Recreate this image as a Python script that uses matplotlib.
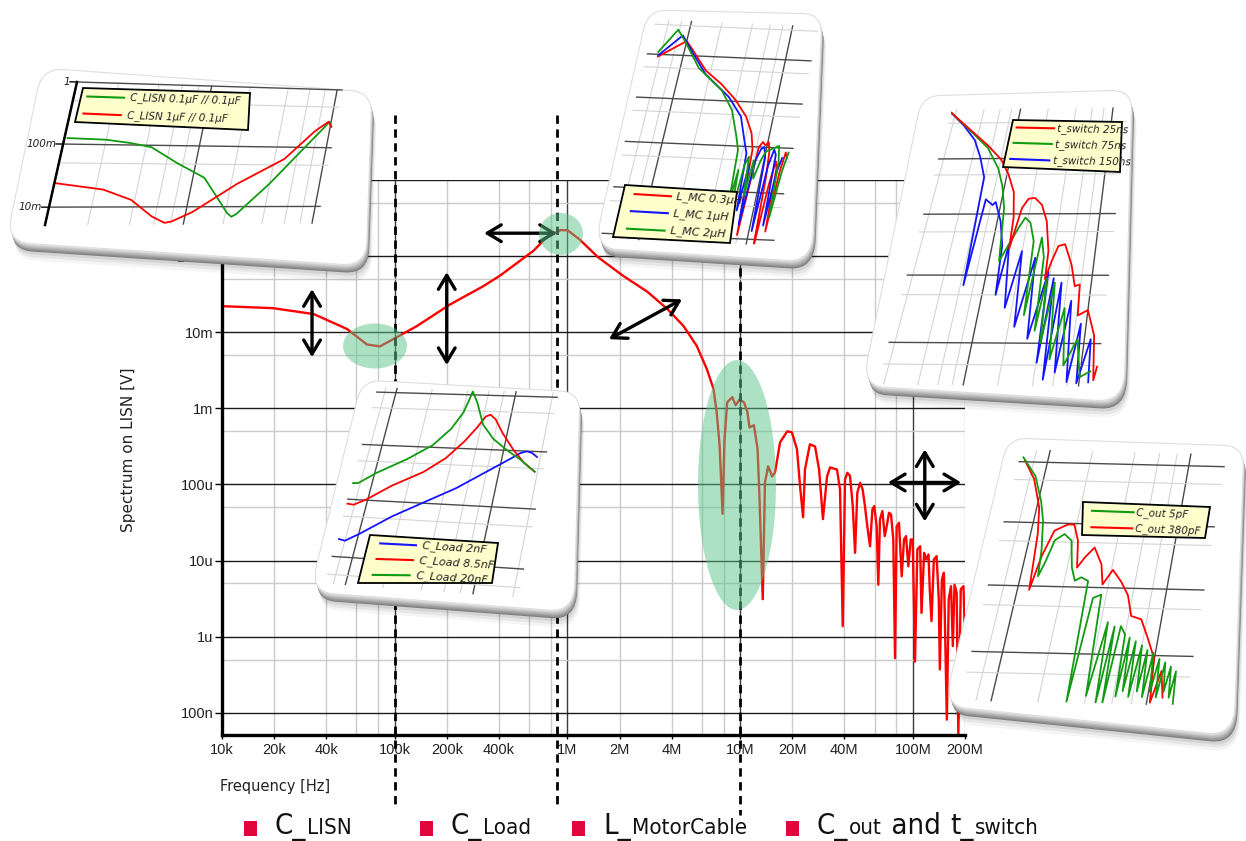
import numpy as np
import matplotlib
matplotlib.use('Agg')
import matplotlib.pyplot as plt
from matplotlib.transforms import Transform, Affine2D, blended_transform_factory
from matplotlib.patches import FancyBboxPatch, Polygon, Ellipse, Rectangle

W, H = 1246, 841

# ---------------- data ----------------
# main spectrum on the LISN
main_f = [10e3, 19.7e3, 34e3, 53e3, 69e3, 82e3, 98e3, 134e3, 208e3, 324e3, 405e3, 634e3, 760e3, 910e3,
          1.0e6, 1.17e6, 1.5e6, 2.1e6, 2.9e6, 3.8e6, 4.7e6, 5.6e6, 6.4e6, 7.0e6, 7.3e6, 7.6e6, 7.9e6, 8.1e6,
          8.4e6, 9.0e6, 9.4e6, 9.9e6, 10.5e6, 11e6, 11.3e6, 12e6, 12.6e6, 12.9e6, 13.5e6, 13.9e6, 14.5e6,
          15.3e6, 15.9e6, 17.0e6, 18.7e6, 19.9e6, 21.3e6, 22.2e6, 23.1e6, 23.7e6, 25.3e6, 27.1e6, 28.6e6,
          30.1e6, 31.8e6, 33.1e6, 36.3e6,
          37.8e6, 39.2e6, 40.4e6, 41.7e6, 43.2e6, 44.8e6, 46.2e6, 47.6e6, 49.4e6, 51.1e6, 52.7e6, 54.4e6,
          56.4e6, 58.2e6, 59.7e6, 61.6e6, 63e6, 64.4e6, 66.5e6, 68.6e6, 70.4e6, 72.6e6, 74.6e6, 76.9e6,
          78.7e6, 80.4e6, 83e6, 86e6, 88.7e6, 91.1e6, 94e6, 97e6, 99.6e6, 102.7e6, 106e6, 110e6, 112e6,
          116e6, 119e6, 123e6, 125e6, 128e6, 132e6, 137e6, 141e6, 143e6, 147e6, 151e6, 157e6, 161e6,
          166e6, 170e6, 174e6, 179e6, 183e6, 189e6, 196e6, 200e6]
main_v = [22e-3, 20.7e-3, 17.3e-3, 11e-3, 6.9e-3, 6.5e-3, 8.1e-3, 12e-3, 23e-3, 40e-3, 55e-3, 117e-3, 178e-3,
          219e-3, 219e-3, 167e-3, 97e-3, 55e-3, 34e-3, 20e-3, 12e-3, 6.6e-3, 3.3e-3, 1.8e-3, 0.9e-3, 0.32e-3,
          41e-6, 0.37e-3, 1.2e-3, 1.4e-3, 1.1e-3, 1.3e-3, 1.2e-3, 0.9e-3, 0.56e-3, 0.6e-3, 0.29e-3, 75e-6,
          3.1e-6, 106e-6, 173e-6, 127e-6, 144e-6, 357e-6, 498e-6, 483e-6, 289e-6, 94e-6, 37e-6, 157e-6,
          336e-6, 315e-6, 157e-6, 35e-6, 127e-6, 167e-6, 157e-6,
          86e-6, 1.37e-6, 116e-6, 142e-6, 129e-6, 52e-6, 12.6e-6, 78e-6, 105e-6, 86e-6, 52e-6, 28e-6,
          15.4e-6, 47e-6, 52e-6, 28e-6, 4.8e-6, 34.6e-6, 44.6e-6, 20.9e-6, 28e-6, 42.4e-6, 40.3e-6, 18.9e-6,
          0.52e-6, 28e-6, 31.3e-6, 6.2e-6, 18.9e-6, 20.9e-6, 8.4e-6, 18.9e-6, 18.9e-6, 0.47e-6, 14e-6,
          15.4e-6, 2.05e-6, 12.6e-6, 10.3e-6, 12e-6, 4.2e-6, 1.6e-6, 10.3e-6, 11.4e-6, 3.1e-6, 0.37e-6,
          5.6e-6, 6.9e-6, 81e-9, 3.1e-6, 4.6e-6, 0.75e-6, 4.8e-6, 3.75e-6, 51e-9, 4.2e-6, 4.6e-6, 0.91e-6]

x_ticks = [1e4, 2e4, 4e4, 1e5, 2e5, 4e5, 1e6, 2e6, 4e6, 1e7, 2e7, 4e7, 1e8, 2e8]
x_labels = ['10k', '20k', '40k', '100k', '200k', '400k', '1M', '2M', '4M', '10M', '20M', '40M', '100M', '200M']
y_ticks = [1e-7, 1e-6, 1e-5, 1e-4, 1e-3, 1e-2, 1e-1, 1]
y_labels = ['100n', '1u', '10u', '100u', '1m', '10m', '100m', '1']

# inset: C_LISN
lisn01_f = [10.5e3, 20e3, 30e3, 44e3, 72e3, 122e3, 165e3, 205e3, 226e3, 245e3, 398e3, 623e3, 899e3, 970e3, 1.02e6]
lisn01_v = [125e-3, 120e-3, 108e-3, 93e-3, 52e-3, 30e-3, 14e-3, 8e-3, 6.8e-3, 7.6e-3, 24e-3, 82e-3, 223e-3, 280e-3, 230e-3]
lisn1_f = [10e3, 22.7e3, 37.6e3, 56.6e3, 72e3, 81e3, 112e3, 224e3, 479e3, 767e3, 955e3, 1.02e6]
lisn1_v = [24e-3, 19e-3, 13e-3, 7e-3, 5.5e-3, 5.8e-3, 8.2e-3, 24e-3, 63e-3, 192e-3, 279e-3, 230e-3]

# inset: C_Load
load2_f = [71e3, 80e3, 102e3, 170e3, 289e3, 491e3, 820e3, 1.18e6, 1.37e6, 1.53e6, 1.69e6, 1.88e6]
load2_v = [2.0e-3, 1.9e-3, 2.6e-3, 5.5e-3, 10.4e-3, 19.6e-3, 42e-3, 72e-3, 91e-3, 99e-3, 94e-3, 80e-3]
load85_f = [67e3, 78.5e3, 97.5e3, 147e3, 250e3, 355e3, 468e3, 556e3, 628e3, 682e3, 763e3, 927e3, 1.2e6, 1.53e6, 1.9e6]
load85_v = [8.4e-3, 8.1e-3, 10.3e-3, 19e-3, 35.5e-3, 65e-3, 135e-3, 243e-3, 400e-3, 434e-3, 359e-3, 198e-3, 102e-3, 61e-3, 44e-3]
load20_f = [68.5e3, 77e3, 103e3, 174e3, 262e3, 346e3, 405e3, 428e3, 441e3, 504e3, 617e3, 792e3, 1.06e6, 1.42e6, 1.9e6]
load20_v = [19.5e-3, 19.8e-3, 31e-3, 59e-3, 109e-3, 226e-3, 461e-3, 813e-3, 1.16, 0.72, 282e-3, 157e-3, 101e-3, 69e-3, 44e-3]

# inset: L_MotorCable
mc03_f = [573e3, 1.0e6, 1.17e6, 1.79e6, 2.7e6, 4.0e6, 5.5e6, 6.7e6, 7.4e6, 7.9e6, 8.4e6, 9.0e6, 9.6e6, 10.2e6,
          10.8e6, 11.3e6, 11.8e6, 12.4e6, 13.0e6, 13.6e6, 14.2e6, 14.8e6, 15.5e6, 16.3e6]
mc03_v = [89e-3, 217e-3, 146e-3, 47e-3, 24e-3, 10.8e-3, 4.6e-3, 2.0e-3, 0.87e-3, 12e-6, 1.0e-3, 1.3e-3, 1.1e-3,
          1.3e-3, 0.8e-3, 0.2e-3, 6e-6, 0.15e-3, 0.5e-3, 0.35e-3, 15e-6, 0.3e-3, 0.8e-3, 0.6e-3]
mc1_f = [573e3, 890e3, 1.19e6, 1.81e6, 3.4e6, 4.9e6, 5.9e6, 6.6e6, 7.0e6, 7.4e6, 7.8e6, 8.3e6, 8.9e6, 9.5e6,
         10.1e6, 10.6e6, 11.2e6, 11.9e6, 12.6e6, 13.2e6, 13.9e6, 14.7e6]
mc1_v = [95e-3, 292e-3, 125e-3, 39e-3, 12.4e-3, 4.6e-3, 1.4e-3, 0.71e-3, 40e-6, 0.4e-3, 20e-6, 0.5e-3, 0.9e-3,
         1.0e-3, 0.6e-3, 15e-6, 0.4e-3, 0.9e-3, 0.7e-3, 20e-6, 0.3e-3, 0.6e-3]
mc2_f = [562e3, 778e3, 982e3, 1.51e6, 2.83e6, 3.9e6, 4.9e6, 5.4e6, 5.7e6, 6.0e6, 6.3e6, 6.7e6, 7.1e6, 7.6e6,
         8.0e6, 8.6e6, 9.3e6, 10e6, 11e6, 12e6, 13e6, 13.8e6, 14.5e6, 15.5e6, 16.5e6]
mc2_v = [113e-3, 393e-3, 203e-3, 53e-3, 17e-3, 6.3e-3, 1.6e-3, 0.83e-3, 60e-6, 0.3e-3, 30e-6, 0.4e-3, 0.6e-3,
         80e-6, 0.5e-3, 0.2e-3, 0.5e-3, 0.8e-3, 0.9e-3, 1.0e-3, 1.1e-3, 0.5e-3, 30e-6, 0.3e-3, 0.8e-3]

# inset: t_switch
sw25_f = [1.78e6, 3.25e6, 5.4e6, 8.1e6, 10.4e6, 12.8e6, 14.3e6, 14.8e6, 16.6e6, 18.6e6, 21.5e6, 25.9e6, 30.8e6,
          35.7e6, 36.5e6, 39.7e6, 43.8e6, 50.4e6, 62e6, 70.8e6, 78.5e6, 82e6, 100e6, 121e6, 132e6, 138e6]
sw25_v = [8.2e-3, 3.6e-3, 1.8e-3, 0.95e-3, 0.5e-3, 0.24e-3, 86e-6, 26e-6, 126e-6, 183e-6, 189e-6, 143e-6, 75e-6,
          24e-6, 8.7e-6, 16.6e-6, 29e-6, 31e-6, 14.6e-6, 6.8e-6, 7.2e-6, 2.5e-6, 3.0e-6, 1.3e-6, 0.32e-6, 0.48e-6]
sw75_f = [1.78e6, 3.3e6, 5.5e6, 7.9e6, 9.5e6, 11e6, 12.5e6, 16.8e6, 18.7e6, 21.4e6, 24.8e6, 26.5e6, 29.4e6,
          33e6, 35e6, 38e6, 41e6, 45.7e6, 52e6, 61e6, 70e6, 87e6, 100e6, 122e6]
sw75_v = [8.2e-3, 3.4e-3, 1.6e-3, 0.65e-3, 0.31e-3, 126e-6, 16.6e-6, 59e-6, 86e-6, 71e-6, 35e-6, 2.5e-6, 40e-6,
          19e-6, 1.5e-6, 9e-6, 1.0e-6, 7.7e-6, 0.6e-6, 3.2e-6, 0.5e-6, 1.15e-6, 0.35e-6, 0.42e-6]
sw150_f = [1.78e6, 2.68e6, 3.8e6, 4.8e6, 5.9e6, 6.4e6, 6.9e6, 8.3e6, 8.8e6, 10.8e6, 12.5e6, 13.4e6, 14.5e6,
           17.2e6, 19.9e6, 22.6e6, 27.4e6, 30.9e6, 38.4e6, 40.5e6, 44e6, 48.3e6, 52.8e6, 60e6, 68.7e6, 78e6,
           89.5e6, 95e6, 114e6, 120e6]
sw150_v = [8.2e-3, 4.4e-3, 2.3e-3, 1.08e-3, 0.45e-3, 7e-6, 0.18e-3, 143e-6, 161e-6, 75e-6, 30e-6, 5e-6, 31e-6,
           3.2e-6, 24e-6, 1.7e-6, 18.8e-6, 1.15e-6, 11.2e-6, 0.54e-6, 9e-6, 0.32e-6, 7.7e-6, 0.4e-6, 4.1e-6,
           0.3e-6, 1.9e-6, 0.29e-6, 1.15e-6, 0.3e-6]

# inset: C_out
out5_f = [6.65e6, 8.7e6, 10.5e6, 11.6e6, 12.6e6, 13.1e6, 13.9e6, 15e6, 17.1e6, 19.5e6, 21.5e6, 23.5e6, 25.7e6,
          28.9e6, 30.5e6, 32.9e6, 37e6, 40e6, 44.6e6, 47e6, 50e6, 52e6, 55e6, 60e6, 62e6, 65e6, 68e6, 72e6,
          75e6, 80e6, 84e6, 88e6, 92e6, 97e6, 102e6, 108e6, 113e6, 119e6, 125e6, 131e6, 137e6, 143e6, 148e6]
out5_v = [1.19e-3, 0.58e-3, 0.22e-3, 108e-6, 37e-6, 14.2e-6, 23e-6, 53e-6, 67e-6, 53e-6, 20e-6, 12.5e-6, 14.2e-6,
          12.5e-6, 0.2e-6, 6.9e-6, 7.8e-6, 0.25e-6, 3.0e-6, 0.2e-6, 2.6e-6, 0.2e-6, 2.65e-6, 2.0e-6, 0.25e-6,
          1.8e-6, 0.3e-6, 1.6e-6, 0.25e-6, 1.4e-6, 0.3e-6, 1.2e-6, 0.25e-6, 1.1e-6, 0.3e-6, 0.9e-6, 0.25e-6,
          0.8e-6, 0.3e-6, 0.7e-6, 0.25e-6, 0.6e-6, 0.2e-6]
out380_f = [6.9e6, 8.6e6, 10.4e6, 11.2e6, 12.0e6, 12.9e6, 14.4e6, 17.4e6, 19.3e6, 21.6e6, 23.3e6, 25.4e6, 28.7e6,
            33.7e6, 36.5e6, 41e6, 48.4e6, 55.9e6, 62.4e6, 73.5e6, 85e6, 99.6e6, 105e6, 115e6, 125e6]
out380_v = [1.06e-3, 0.52e-3, 176e-6, 67e-6, 8.7e-6, 29e-6, 75e-6, 96e-6, 96e-6, 53e-6, 20e-6, 29e-6, 42e-6,
            23e-6, 11.2e-6, 19e-6, 12.5e-6, 7.8e-6, 3.8e-6, 3.4e-6, 1.85e-6, 0.9e-6, 0.21e-6, 0.6e-6, 0.25e-6]

# bottom key: (text, large?) pieces per entry
key_entries = [[('C_', True), ('LISN', False)],
               [('C_', True), ('Load', False)],
               [('L_', True), ('MotorCable', False)],
               [('C_', True), ('out', False), (' and ', True), ('t_', True), ('switch', False)]]

RED, GREEN, BLUE = '#ff0000', '#129a12', '#1414ff'


# perspective map of the unit square onto four pixel corners (BL, BR, TR, TL)
class Quad(Transform):
    input_dims = 2
    output_dims = 2
    is_separable = False
    has_inverse = False

    def __init__(self, corners):
        super().__init__()
        src = [(0, 0), (1, 0), (1, 1), (0, 1)]
        A, b = [], []
        for (x, y), (X, Y) in zip(src, corners):
            A.append([x, y, 1, 0, 0, 0, -X * x, -X * y]); b.append(X)
            A.append([0, 0, 0, x, y, 1, -Y * x, -Y * y]); b.append(Y)
        h = np.linalg.solve(np.array(A, float), np.array(b, float))
        self.m = np.append(h, 1.0).reshape(3, 3)

    def transform_non_affine(self, values):
        v = np.asarray(values, float)
        one = v.ndim == 1
        v = v.reshape(-1, 2)
        p = np.column_stack([v, np.ones(len(v))]) @ self.m.T
        out = p[:, :2] / p[:, 2:3]
        return out.reshape(-1) if one else out


fig = plt.figure(figsize=(W / 100, H / 100), dpi=100)

# ---------------- main plot ----------------
ax = fig.add_axes([222 / W, (H - 735) / H, 743 / W, 555 / H], zorder=1)
ax.set_xscale('log')
ax.set_yscale('log')
ax.set_xlim(1e4, 2e8)
ax.set_ylim(10 ** (-555 / 76.1), 1)
for e in range(4, 9):
    for k in (1, 2, 4, 6, 8):
        f = k * 10.0 ** e
        if 1e4 < f <= 2e8:
            ax.axvline(f, color='#3c3c3c' if k == 1 else '#cbcbcb', lw=1.0, zorder=0.5)
for e in range(-8, 1):
    for k in (1, 5):
        v = k * 10.0 ** e
        if 5.1e-8 < v <= 1:
            ax.axhline(v, color='#1a1a1a' if k == 1 else '#cbcbcb', lw=1.0, zorder=0.5)
ax.plot(main_f, main_v, color=RED, lw=1.7, zorder=2)
ax.set_xticks(x_ticks)
ax.set_xticklabels(x_labels, fontfamily='Liberation Sans', fontsize=10.5, color='#222222')
ax.set_yticks(y_ticks)
ax.set_yticklabels(y_labels, fontfamily='Liberation Sans', fontsize=10.5, color='#222222')
ax.minorticks_off()
ax.tick_params(axis='y', length=5, width=1, pad=1)
ax.tick_params(axis='x', length=3, width=1, pad=3)
for s in ('top', 'right'):
    ax.spines[s].set_visible(False)
for s in ('left', 'bottom'):
    ax.spines[s].set_linewidth(2.4)

# annotation arrows (main-plot data coordinates)
arrows = [((33.2e3, 36.8e-3), (33.2e3, 4.7e-3)),
          ((200e3, 61.5e-3), (200e3, 3.7e-3)),
          ((329e3, 0.2), (869e3, 0.2)),
          ((1.74e6, 8.1e-3), (4.6e6, 27e-3)),
          ((71.6e6, 106e-6), (190e6, 106e-6)),
          ((117e6, 289e-6), (117e6, 32.6e-6))]
for a, b in arrows:
    ax.annotate('', xy=b, xytext=a, annotation_clip=False, zorder=3,
                arrowprops=dict(arrowstyle='<->,head_length=0.5,head_width=0.3', lw=2.4,
                                color='black', shrinkA=0, shrinkB=0, mutation_scale=20))

# ---------------- overlay (pixel coordinates) ----------------
ov = fig.add_axes([0, 0, 1, 1], zorder=3)
ov.set_xlim(0, W)
ov.set_ylim(H, 0)
ov.axis('off')
ov.patch.set_visible(False)

# dashed markers at the resonance frequencies
xpix = blended_transform_factory(ax.transData, ov.transData)
for f, y0, y1 in ((1e5, 115, 804), (870e3, 115, 806), (10e6, 115, 815)):
    ov.plot([f, f], [y0, y1], transform=xpix, color='black', lw=2.0, ls=(0, (3, 2)), zorder=1)

for (cx, cy), w, h in (((375, 346), 64, 45), ((561, 234), 44, 42), ((737, 485), 78, 250)):
    ov.add_patch(Ellipse((cx, cy), w, h, fc='#5cc48a', ec='none', alpha=0.5, zorder=2))


def tile(corners, z):
    bl, br, tr, tl = [np.array(c, float) for c in corners]
    w = np.hypot(*(br - bl))
    h = np.hypot(*(tl - bl))
    base = Quad(corners) + ov.transData
    style = f'round,pad=0,rounding_size={24.0 / w:.4f}'
    for k, a in ((17, 0.04), (14, 0.06), (11, 0.08)):
        ov.add_patch(FancyBboxPatch((0, 0), 1, 1, boxstyle=style, mutation_aspect=w / h, fc='black', ec='none',
                                    alpha=a, transform=base + Affine2D().translate(0.3 * k, -k), zorder=z))
    for k in range(8, 0, -1):
        g = 0.94 - 0.055 * k
        ov.add_patch(FancyBboxPatch((0, 0), 1, 1, boxstyle=style, mutation_aspect=w / h, fc=(g, g, g), ec='none',
                                    transform=base + Affine2D().translate(0.3 * k, -k), zorder=z))
    ov.add_patch(FancyBboxPatch((0, 0), 1, 1, boxstyle=style, mutation_aspect=w / h, fc='white', ec='#dedede',
                                lw=0.8, transform=base, zorder=z))


def panel(tile_c, plot_c, xl, yl, curves, z):
    tile(tile_c, z)
    tf = (Affine2D().translate(-xl[0], -yl[0]).scale(1 / (xl[1] - xl[0]), 1 / (yl[1] - yl[0]))
          + Quad(plot_c) + ov.transData)
    for e in range(int(np.floor(xl[0])), int(np.ceil(xl[1])) + 1):
        for k in (2, 4, 6, 8, 1):
            x = e + np.log10(k)
            if xl[0] <= x <= xl[1]:
                ov.plot([x, x], yl, transform=tf, color='#4a4a4a' if k == 1 else '#d4d4d4',
                        lw=1.0 if k == 1 else 0.8, zorder=z + 1)
    for e in range(int(np.floor(yl[0])), int(np.ceil(yl[1])) + 1):
        for k in (5, 1):
            y = e + np.log10(k)
            if yl[0] <= y <= yl[1]:
                ov.plot(xl, [y, y], transform=tf, color='#4a4a4a' if k == 1 else '#d4d4d4',
                        lw=1.0 if k == 1 else 0.8, zorder=z + 1)
    clip = Polygon(plot_c, closed=True, transform=ov.transData)
    for f, v, col in curves:
        ln, = ov.plot(np.log10(f), np.log10(v), transform=tf, color=col, lw=1.3, zorder=z + 2)
        ln.set_clip_path(clip)
    return tf


def legend_box(corners, labels, colors, z, fs, lx, tx):
    tf = Quad(corners) + ov.transData
    ov.add_patch(Polygon([(0, 0), (1, 0), (1, 1), (0, 1)], closed=True, transform=tf, fc='#ffffcc', ec='black',
                         lw=1.3, zorder=z))
    ang = np.degrees(np.arctan2(-(corners[2][1] - corners[3][1]), corners[2][0] - corners[3][0]))
    n = len(labels)
    for i, (lab, col) in enumerate(zip(labels, colors)):
        yy = 1 - (i + 0.5) / n
        ov.plot(lx, [yy, yy], transform=tf, color=col, lw=1.5, zorder=z + 1)
        ov.text(tx, yy, lab, transform=tf, fontsize=fs, style='italic', color='#222222', ha='left', va='center',
                rotation=ang, rotation_mode='anchor', zorder=z + 1)


# C_LISN inset
xl1, yl1 = (4.0, 6.04), (-2.28, 0.0)
tf1 = panel([(6, 242), (366, 266), (372, 92), (42, 68)], [(45, 225), (317, 223), (342, 90), (77, 82)],
            xl1, yl1, [(lisn01_f, lisn01_v, GREEN), (lisn1_f, lisn1_v, RED)], 10)
ov.plot([xl1[0], xl1[0]], yl1, transform=tf1, color='black', lw=1.8, zorder=13)
for val, lab in ((0, '1'), (-1, '100m'), (-2, '10m')):
    ov.plot([xl1[0] - 0.05, xl1[0]], [val, val], transform=tf1, color='black', lw=1.0, zorder=13)
    ov.text(xl1[0] - 0.05, val, lab, transform=tf1, fontsize=7.5, style='italic', color='#222222',
            ha='right', va='center', zorder=13)
legend_box([(75, 122), (248, 130), (250, 93), (83, 88)], ['C_LISN 0.1µF // 0.1µF', 'C_LISN 1µF // 0.1µF'],
           [GREEN, RED], 14, 7.5, (0.04, 0.27), 0.31)

# C_Load inset
panel([(310, 592), (574, 612), (580, 392), (362, 380)], [(325, 583), (518, 597), (558, 393), (378, 388)],
      (4.835, 6.34), (-3.45, 0.08),
      [(load2_f, load2_v, BLUE), (load85_f, load85_v, RED), (load20_f, load20_v, GREEN)], 20)
legend_box([(358, 583), (492, 583), (498, 543), (370, 535)], ['C_Load 2nF', 'C_Load 8.5nF', 'C_Load 20nF'],
           [BLUE, RED, GREEN], 24, 8, (0.08, 0.33), 0.38)

# L_MotorCable inset
panel([(594, 248), (812, 262), (822, 14), (648, 10)], [(601, 238), (773, 245), (818, 27), (656, 20)],
      (5.65, 7.25), (-5.1, -0.2),
      [(mc03_f, mc03_v, RED), (mc1_f, mc1_v, BLUE), (mc2_f, mc2_v, GREEN)], 30)
legend_box([(613, 237), (730, 243), (737, 192), (625, 185)], ['L_MC 0.3µH', 'L_MC 1µH', 'L_MC 2µH'],
           [RED, BLUE, GREEN], 34, 8, (0.1, 0.42), 0.47)

# t_switch inset
panel([(862, 386), (1124, 402), (1132, 90), (922, 96)], [(878, 384), (1096, 386), (1127, 108), (952, 110)],
      (6.25, 8.15), (-6.57, -2.03),
      [(sw150_f, sw150_v, BLUE), (sw75_f, sw75_v, GREEN), (sw25_f, sw25_v, RED)], 40)
legend_box([(1003, 167), (1120, 172), (1122, 122), (1013, 120)],
           ['t_switch 25ns', 't_switch 75ns', 't_switch 150ns'], [RED, GREEN, BLUE], 44, 7.5, (0.05, 0.4), 0.43)

# C_out inset
panel([(944, 706), (1234, 736), (1244, 446), (1008, 438)], [(960, 700), (1185, 705), (1226, 455), (1022, 450)],
      (6.8, 8.25), (-6.7, -2.8),
      [(out380_f, out380_v, RED), (out5_f, out5_v, GREEN)], 50)
legend_box([(1082, 535), (1205, 538), (1210, 507), (1083, 502)], ['C_out 5pF', 'C_out 380pF'],
           [GREEN, RED], 54, 7.5, (0.07, 0.39), 0.41)

# axis titles
ov.text(128, 450, 'Spectrum on LISN [V]', rotation=90, fontsize=11, color='#222222', ha='center', va='center')
ov.text(220, 786, 'Frequency [Hz]', fontsize=10.5, color='#222222', ha='left', va='center')

# bottom key, pieces placed one after another
renderer = fig.canvas.get_renderer()
for x0, pieces in zip((275, 451, 603, 817), key_entries):
    ov.add_patch(Rectangle((x0 - 31, 821), 13, 15, fc='#e0063c', ec='none', zorder=5))
    x = x0
    for txt, big in pieces:
        t = ov.text(x, 834, txt, fontsize=21 if big else 16, fontstretch='condensed', color='#111111',
                    ha='left', va='baseline', zorder=5)
        x = t.get_window_extent(renderer=renderer).x1 + 1

fig.savefig('out.png', dpi=100)
